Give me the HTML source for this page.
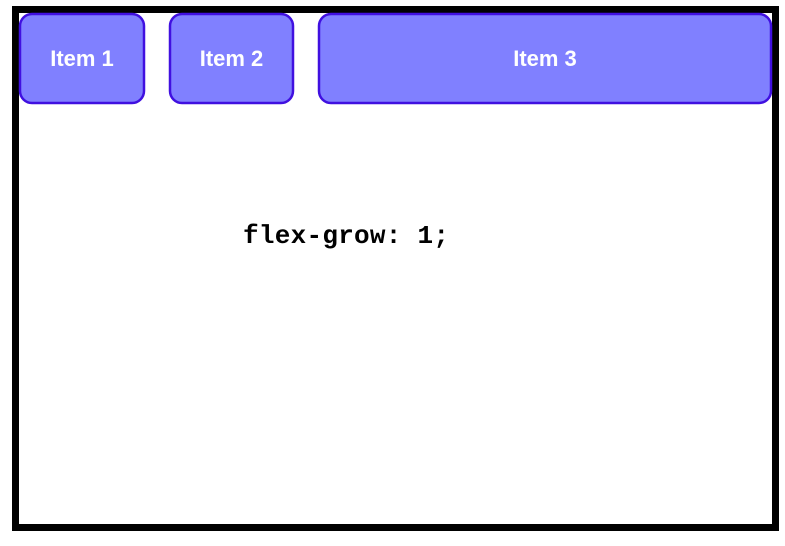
<!DOCTYPE html>
<html><head><style>body{margin:0;background:#fff}</style></head><body>
<svg width="785" height="541" xmlns="http://www.w3.org/2000/svg">
<rect x="15.5" y="9.5" width="760" height="518" fill="#fff" stroke="#000" stroke-width="7"/>
<g fill="#8080ff" stroke="#4010e0" stroke-width="2.5">
<rect x="20" y="14" width="124" height="89" rx="12"/>
<rect x="170" y="14" width="123" height="89" rx="12"/>
<rect x="319" y="14" width="452" height="89" rx="12"/>
</g>
<g fill="#fff" font-family="Liberation Sans, sans-serif" font-weight="bold" font-size="22" text-anchor="middle">
<text x="82" y="66">Item 1</text>
<text x="231.5" y="66">Item 2</text>
<text x="545" y="66">Item 3</text>
</g>
<text x="243" y="243" font-family="Liberation Mono, monospace" font-weight="bold" font-size="26" fill="#000" textLength="206">flex-grow: 1;</text>
</svg>
</body></html>
